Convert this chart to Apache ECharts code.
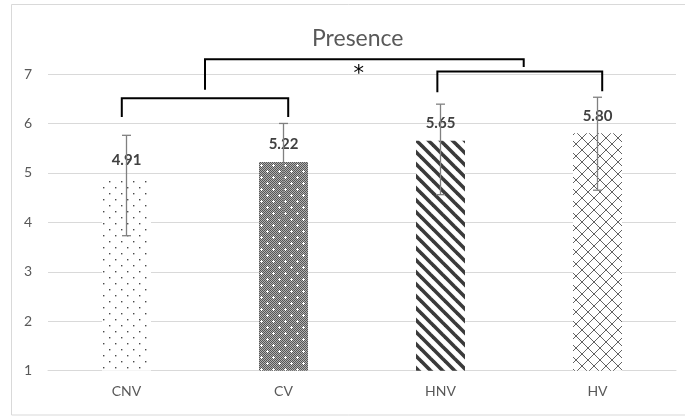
<!DOCTYPE html>
<html>
<head>
<meta charset="utf-8">
<script src="https://cdn.jsdelivr.net/npm/echarts@6/dist/echarts.min.js"></script>
<style>
  html, body { margin: 0; padding: 0; background: #ffffff; }
  #chart { width: 685px; height: 417px; }
</style>
</head>
<body>
<div id="chart"></div>
<script>
// Condition means and their error bar ends
const categories = ['CNV', 'CV', 'HNV', 'HV'];
const means = [4.91, 5.22, 5.65, 5.80];
const errLow = [3.73, 4.07, 4.56, 4.65];
const errHigh = [5.76, 6.00, 6.39, 6.53];
const yTicks = [1, 2, 3, 4, 5, 6, 7];

// Significance brackets, in category units (x) and axis values (y)
const bracketFrom = [-0.03, 1.98, 0.50];
const bracketTo = [1.03, 3.03, 2.53];
const bracketLevel = [6.51, 7.05, 7.30];
const bracketLeftEnd = [6.13, 6.63, 6.68];
const bracketRightEnd = [6.13, 6.65, 7.14];
const starX = [1.48];
const starY = [7.06];
const starText = ['*'];

// Pattern tiles for the bar fills
function tile(size, draw) {
  const c = document.createElement('canvas');
  c.width = size; c.height = size;
  const g = c.getContext('2d');
  g.fillStyle = '#ffffff';
  g.fillRect(0, 0, size, size);
  draw(g, size);
  return { image: c, repeat: 'repeat' };
}

const dotFill = tile(12, (g) => {
  g.fillStyle = '#4a4a4a';
  g.fillRect(1, 1, 1.4, 1.4);
  g.fillRect(7, 7, 1.4, 1.4);
});

const checkerFill = tile(12, (g, s) => {
  for (let y = 0; y < s; y++) {
    for (let x = 0; x < s; x++) {
      g.fillStyle = ((x + y) % 2 === 0) ? '#555555' : '#b0b0b0';
      g.fillRect(x, y, 1, 1);
    }
  }
  g.fillStyle = '#ffffff';
  [[3, 3], [9, 9]].forEach(([cx, cy]) => {
    g.fillRect(cx - 1, cy, 3, 1);
    g.fillRect(cx, cy - 1, 1, 3);
  });
});

const stripeFill = tile(12, (g, s) => {
  g.strokeStyle = '#3a3a3a';
  g.lineWidth = 3.6;
  for (let k = -s; k <= s; k += s) {
    g.beginPath();
    g.moveTo(k - 2, -2);
    g.lineTo(k + s + 2, s + 2);
    g.stroke();
  }
});

const diamondFill = tile(12, (g, s) => {
  g.strokeStyle = '#626262';
  g.lineWidth = 1;
  for (let k = -s; k <= s; k += s) {
    g.beginPath();
    g.moveTo(k - 1, -1); g.lineTo(k + s + 1, s + 1);
    g.moveTo(k - 1, s + 1); g.lineTo(k + s + 1, -1);
    g.stroke();
  }
});

const fills = [dotFill, checkerFill, stripeFill, diamondFill];
const fontStack = 'Lato, "Open Sans", sans-serif';

const chart = echarts.init(document.getElementById('chart'), null, { renderer: 'canvas' });

const option = {
  animation: false,
  backgroundColor: '#ffffff',
  textStyle: { fontFamily: fontStack },
  title: {
    text: 'Presence',
    left: 307,
    top: 22,
    textStyle: { color: '#595959', fontSize: 23, fontWeight: 'normal', fontFamily: fontStack }
  },
  graphic: [{
    type: 'rect',
    shape: { x: 11.5, y: 4.5, width: 700, height: 410.5 },
    style: { fill: 'none', stroke: '#d9d9d9', lineWidth: 1 },
    silent: true
  }],
  grid: { left: 48, right: 9, top: 74, bottom: 46.3, containLabel: false },
  xAxis: [{
    type: 'category',
    data: categories,
    axisTick: { show: false },
    axisLine: { lineStyle: { color: '#d9d9d9', width: 1 } },
    axisLabel: { color: '#595959', fontSize: 14, margin: 14 }
  }, {
    type: 'value',
    min: -0.5,
    max: 3.5,
    show: false
  }],
  yAxis: {
    type: 'value',
    min: yTicks[0],
    max: yTicks[yTicks.length - 1],
    interval: 1,
    axisLine: { show: false },
    axisTick: { show: false },
    axisLabel: { color: '#595959', fontSize: 14, margin: 16 },
    splitLine: { lineStyle: { color: '#d9d9d9', width: 1 } }
  },
  series: [{
    type: 'bar',
    xAxisIndex: 0,
    barWidth: 49,
    z: 2,
    data: means.map((v, i) => ({ value: v, itemStyle: { color: fills[i] } })),
    label: {
      show: true,
      position: 'top',
      distance: 10,
      color: '#404040',
      fontWeight: 'bold',
      fontSize: 15,
      formatter: (p) => p.value.toFixed(2)
    }
  }, {
    type: 'custom',
    xAxisIndex: 0,
    z: 5,
    clip: false,
    data: categories.map((c, i) => [i, errLow[i], errHigh[i]]),
    renderItem: (params, api) => {
      const lo = api.coord([api.value(0), api.value(1)]);
      const hi = api.coord([api.value(0), api.value(2)]);
      const cap = 4.5;
      const style = { stroke: '#808080', lineWidth: 1.3 };
      return {
        type: 'group',
        children: [
          { type: 'line', shape: { x1: hi[0], y1: hi[1], x2: lo[0], y2: lo[1] }, style },
          { type: 'line', shape: { x1: hi[0] - cap, y1: hi[1], x2: hi[0] + cap, y2: hi[1] }, style },
          { type: 'line', shape: { x1: lo[0] - cap, y1: lo[1], x2: lo[0] + cap, y2: lo[1] }, style }
        ]
      };
    }
  }, {
    type: 'custom',
    xAxisIndex: 1,
    z: 6,
    clip: false,
    data: bracketFrom.map((f, i) => [f, bracketTo[i], bracketLevel[i], bracketLeftEnd[i], bracketRightEnd[i]]),
    renderItem: (params, api) => {
      const a = api.coord([api.value(0), api.value(3)]);
      const b = api.coord([api.value(0), api.value(2)]);
      const c = api.coord([api.value(1), api.value(2)]);
      const d = api.coord([api.value(1), api.value(4)]);
      return {
        type: 'polyline',
        shape: { points: [a, b, c, d] },
        style: { stroke: '#000000', lineWidth: 2, fill: 'none' }
      };
    }
  }, {
    type: 'custom',
    xAxisIndex: 1,
    z: 6,
    clip: false,
    data: starX.map((x, i) => [x, starY[i], starText[i]]),
    renderItem: (params, api) => {
      const p = api.coord([api.value(0), api.value(1)]);
      return {
        type: 'text',
        style: {
          text: starText[params.dataIndex],
          x: p[0], y: p[1] + 4,
          align: 'center', verticalAlign: 'middle',
          fontSize: 21, fontWeight: 'normal', fill: '#000000',
          fontFamily: '"DejaVu Sans", sans-serif'
        }
      };
    }
  }]
};

chart.setOption(option);
</script>
</body>
</html>
